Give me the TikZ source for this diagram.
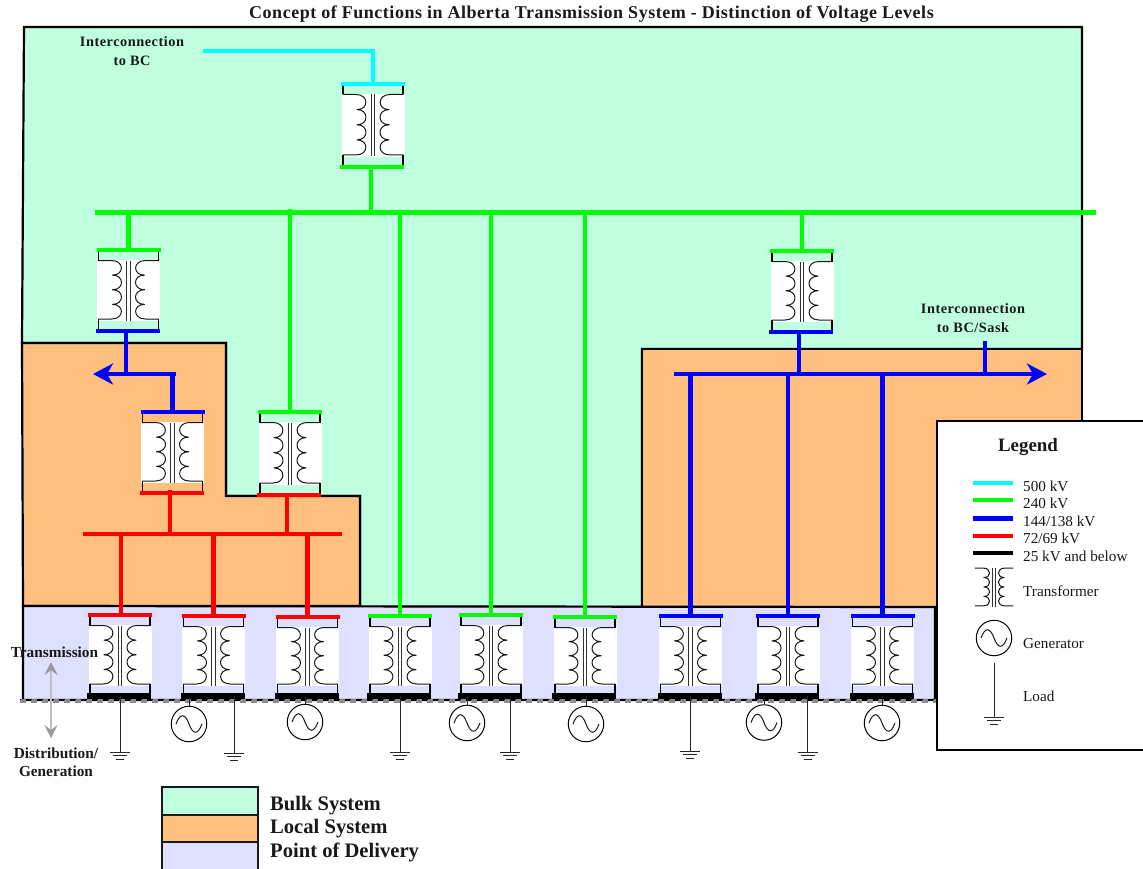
\documentclass[tikz,border=0pt]{standalone}
\usepackage{fontspec}
\setmainfont{Liberation Serif}
\usetikzlibrary{arrows.meta}
\definecolor{bulk}{HTML}{BFFFDF}
\definecolor{local}{HTML}{FFBF7F}
\definecolor{pod}{HTML}{DFDFFF}
\definecolor{kvfive}{HTML}{00FFFF}
\definecolor{kvtwo}{HTML}{00FF00}
\definecolor{kvone}{HTML}{0000FF}
\definecolor{kvsev}{HTML}{FF0000}
\tikzset{
  region/.style={draw=black,line width=2.2pt,line join=miter},
  bus/.style={line width=4.6pt},
  blackbar/.style={black,line width=5.4pt},
  busarrow/.style={line width=4.6pt,-{Stealth[length=20pt,width=21pt,inset=6pt]}},
  tick/.style={draw=black,line width=1.4pt},
  winding/.style={draw=black!90,line width=1pt},
  core/.style={draw=black!80,line width=1pt},
  thinline/.style={draw=black!85,line width=1pt},
  gencircle/.style={circle,draw=black,line width=1pt,minimum size=35.5pt,inner sep=0pt},
  lab/.style={inner sep=0pt,font=\fontsize{14.3}{19}\selectfont\bfseries\addfontfeature{LetterSpace=3.7},align=center,text=black!90},
  sidelab/.style={inner sep=0pt,font=\fontsize{15.3}{18}\selectfont\bfseries,align=center,text=black!90},
  leglab/.style={inner sep=0pt,anchor=base west,font=\fontsize{15.2}{17}\selectfont,text=black!90},
  keylab/.style={inner sep=0pt,anchor=base west,font=\fontsize{20.6}{22}\selectfont\bfseries,text=black!90},
  keybox/.style={draw=black!90,line width=1.8pt},
}
% coil pair in local coordinates: top y = #1, bumps of height #2
\newcommand{\coilpair}[2]{%
  \foreach \sgn in {-1,1}{%
    \draw[winding,line join=round,line cap=round] (\sgn*30,#1) -- (\sgn*17,#1)
      .. controls (\sgn*4,#1) and (\sgn*4,#1+#2) .. (\sgn*16,#1+#2)
      .. controls (\sgn*4,#1+#2) and (\sgn*4,#1+2*#2) .. (\sgn*16,#1+2*#2)
      .. controls (\sgn*4,#1+2*#2) and (\sgn*4,#1+3*#2) .. (\sgn*16,#1+3*#2)
      .. controls (\sgn*4,#1+3*#2) and (\sgn*4,#1+4*#2) .. (\sgn*17,#1+4*#2)
      -- (\sgn*30,#1+4*#2);
    \draw[core] (\sgn*1.7,#1) -- (\sgn*1.7,#1+4*#2+1.5);
  }}
% \xfmr{name}{cx}{top}{bottom}{top colour}{bottom colour}
\newcommand{\xfmr}[6]{%
  \pgfmathsetmacro\hh{#4-#3}%
  \pgfmathsetmacro\stp{(\hh-22.5)/4}%
  \coordinate (#1-t) at (#2,#3);
  \coordinate (#1-b) at (#2-1,#4);
  \begin{scope}[shift={(#2,#3)}]
    \fill[white] (-31.5,10) rectangle (31.5,\hh-10);
    \coilpair{10.5}{\stp}
    \draw[tick] (-30,0) -- (-30,10.5);
    \draw[tick] (30,0) -- (30,10.5);
    \draw[tick] (-30,\hh-12) -- (-30,\hh);
    \draw[tick] (30,\hh-12) -- (30,\hh);
    \draw[bus,#5] (-32,0) -- (32,0);
    \draw[bus,#6] (-33,\hh) -- (31,\hh);
  \end{scope}}
% \genr{name}{x}{y}
\newcommand{\genr}[3]{%
  \node[gencircle] (#1) at (#2,#3) {};
  \draw[winding] (#2-13,#3) .. controls (#2-9,#3-11) and (#2-4,#3-11) .. (#2,#3)
    .. controls (#2+4,#3+11) and (#2+9,#3+11) .. (#2+13,#3);}
% \gnd{name}{x}{y}
\newcommand{\gnd}[3]{%
  \coordinate (#1) at (#2,#3);
  \draw[thinline] (#2-10,#3) -- (#2+10,#3);
  \draw[thinline] (#2-7,#3+3.5) -- (#2+7,#3+3.5);
  \draw[thinline] (#2-4,#3+7) -- (#2+4,#3+7);}
\begin{document}
\begin{tikzpicture}[x=1pt,y=-1pt]
\useasboundingbox (0,0) rectangle (1143,869);
% regions
\draw[region,fill=bulk] (24,27) -- (1082,27) -- (1082,349) -- (642,349) -- (642,607) -- (360,607) -- (360,496) -- (226,496) -- (226,343) -- (22,343) -- cycle;
\draw[region,fill=local] (22,343) -- (226,343) -- (226,496) -- (360,496) -- (360,606) -- (23,606) -- cycle;
\draw[region,fill=local] (642,349) -- (1082,349) -- (1082,607) -- (642,607) -- cycle;
\draw[region,fill=pod] (23,606) -- (935,607) -- (935,700) -- (23,700) -- cycle;
\draw[black!45,line width=3.4pt,dash pattern=on 6pt off 5pt] (20,701) -- (937,701);
\draw[black,line width=1.8pt,dash pattern=on 6pt off 5pt,dash phase=5.5pt] (20,699.5) -- (937,699.5);
% legend box
\draw[draw=black,line width=2.2pt,fill=white] (1146,421) -- (937,421) -- (937,750) -- (1146,750);
% title
\node[inner sep=0pt,font=\fontsize{18}{20}\selectfont\bfseries\addfontfeature{LetterSpace=2.9},text=black!90] (title) at (591.5,14) {Concept of Functions in Alberta Transmission System - Distinction of Voltage Levels};
% transformers
\xfmr{ta}{373}{84}{167}{kvfive}{kvtwo}
\xfmr{tb}{128.5}{250}{331}{kvtwo}{kvone}
\xfmr{tc}{802}{251}{332}{kvtwo}{kvone}
\xfmr{td}{172.5}{412}{493}{kvone}{kvsev}
\xfmr{te}{290}{412}{495}{kvtwo}{kvsev}
\xfmr{p1}{120}{615}{696}{kvsev}{blackbar}
\xfmr{p2}{213.5}{616}{696}{kvsev}{blackbar}
\xfmr{p3}{307.5}{617}{696}{kvsev}{blackbar}
\xfmr{p4}{400}{616}{696}{kvtwo}{blackbar}
\xfmr{p5}{491}{615}{696}{kvtwo}{blackbar}
\xfmr{p6}{585}{617}{696}{kvtwo}{blackbar}
\xfmr{p7}{690.5}{616}{696}{kvone}{blackbar}
\xfmr{p8}{788}{616}{696}{kvone}{blackbar}
\xfmr{p9}{882.5}{616}{696}{kvone}{blackbar}
% bus coordinates
\coordinate (cyanend) at (203,51);
\coordinate (cyancorner) at (373,51);
\coordinate (gw) at (95,212.5);
\coordinate (ge) at (1096,212.5);
\coordinate (gdrop) at (371,167);
\coordinate (gtee) at (290,209);
\coordinate (lbw) at (93,374);
\coordinate (lbe) at (176,374);
\coordinate (lbdrop) at (126,331);
\coordinate (rbw) at (674,374);
\coordinate (rbe) at (1047,374);
\coordinate (rbdrop) at (799,332);
\coordinate (rup) at (985,341);
\coordinate (rw) at (83,534);
\coordinate (re) at (342,534);
\coordinate (rd) at (170,490);
\coordinate (rdb) at (287,495);
\coordinate (rp1) at (121,615);
% 500 kV
\draw[bus,kvfive] (cyanend) -- (cyancorner) -- (ta-t);
% 240 kV
\draw[bus,kvtwo] (gw) -- (ge);
\draw[bus,kvtwo] (gdrop) -- (gdrop |- gw);
\draw[bus,kvtwo] (tb-t) -- (tb-t |- gw);
\draw[bus,kvtwo] (te-t) -- (gtee);
\draw[bus,kvtwo] (tc-t) -- (tc-t |- gw);
\draw[bus,kvtwo] (p4-t) -- (p4-t |- gw);
\draw[bus,kvtwo] (p5-t) -- (p5-t |- gw);
\draw[bus,kvtwo] (p6-t) -- (p6-t |- gw);
% 144/138 kV
\draw[bus,kvone] (lbdrop) -- (lbdrop |- lbw);
\draw[busarrow,kvone] (lbe) -- (lbw);
\draw[bus,kvone] (td-t) -- (td-t |- lbe);
\draw[bus,kvone] (rbdrop) -- (rbdrop |- rbw);
\draw[busarrow,kvone] (rbw) -- (rbe);
\draw[bus,kvone] (rup) -- (rup |- rbw);
\draw[bus,kvone] (p7-t) -- (p7-t |- rbw);
\draw[bus,kvone] (p8-t) -- (p8-t |- rbw);
\draw[bus,kvone] (p9-t) -- (p9-t |- rbw);
% 72/69 kV
\draw[bus,kvsev] (rw) -- (re);
\draw[bus,kvsev] (rd) -- (rd |- rw);
\draw[bus,kvsev] (rdb) -- (rdb |- rw);
\draw[bus,kvsev] (rp1) -- (rp1 |- rw);
\draw[bus,kvsev] (p2-t) -- (p2-t |- rw);
\draw[bus,kvsev] (p3-t) -- (p3-t |- rw);
% generators and loads
\genr{g1}{189}{724}
\genr{g2}{305}{722}
\genr{g3}{467}{723}
\genr{g4}{586}{724}
\genr{g5}{764}{722.5}
\genr{g6}{882}{723}
\gnd{l1}{120}{752}
\gnd{l2}{234}{753}
\gnd{l3}{400}{752}
\gnd{l4}{510}{752}
\gnd{l5}{690}{751}
\gnd{l6}{807.5}{752}
\draw[thinline] (g1.north) -- (g1.north |- p2-b);
\draw[thinline] (g2.north) -- (g2.north |- p3-b);
\draw[thinline] (g3.north) -- (g3.north |- p5-b);
\draw[thinline] (g4.north) -- (g4.north |- p6-b);
\draw[thinline] (g5.north) -- (g5.north |- p8-b);
\draw[thinline] (g6.north) -- (g6.north |- p9-b);
\draw[thinline] (l1) -- (l1 |- p1-b);
\draw[thinline] (l2) -- (l2 |- p2-b);
\draw[thinline] (l3) -- (l3 |- p4-b);
\draw[thinline] (l4) -- (l4 |- p5-b);
\draw[thinline] (l5) -- (l5 |- p7-b);
\draw[thinline] (l6) -- (l6 |- p8-b);
% labels on the diagram
\node[lab] (ibc) at (132,51) {Interconnection\\to BC};
\node[lab] (isask) at (973,318) {Interconnection\\to BC/Sask};
\coordinate (au) at (51,662);
\coordinate (ad) at (51,738);
\draw[black!25,line width=1.6pt,{Stealth[length=13pt,width=13pt,inset=5pt,black!40]}-{Stealth[length=13pt,width=13pt,inset=5pt,black!40]}] (au) -- (ad);
\node[sidelab] (trans) at (54.5,652) {Transmission};
\node[sidelab] (dist) at (56,762) {Distribution/\\Generation};
% voltage legend
\node[inner sep=0pt,font=\fontsize{18.9}{21}\selectfont\bfseries,text=black!90] (legtitle) at (1028,447.5) {Legend};
\coordinate (k1a) at (973,483); \coordinate (k1b) at (1013,483);
\coordinate (k2a) at (973,500); \coordinate (k2b) at (1013,500);
\coordinate (k3a) at (973,518.5); \coordinate (k3b) at (1013,518.5);
\coordinate (k4a) at (973,536); \coordinate (k4b) at (1013,536);
\coordinate (k5a) at (973,553); \coordinate (k5b) at (1013,553);
\draw[bus,kvfive] (k1a) -- (k1b);
\draw[bus,kvtwo] (k2a) -- (k2b);
\draw[bus,kvone] (k3a) -- (k3b);
\draw[bus,kvsev] (k4a) -- (k4b);
\draw[bus,black] (k5a) -- (k5b);
\node[leglab] (t1) at (1023,491) {500 kV};
\node[leglab] (t2) at (1023,508) {240 kV};
\node[leglab] (t3) at (1023,526) {144/138 kV};
\node[leglab] (t4) at (1023,543) {72/69 kV};
\node[leglab] (t5) at (1023,561) {25 kV and below};
\node[leglab] (t6) at (1023,596.5) {Transformer};
\node[leglab] (t7) at (1023,648) {Generator};
\node[leglab] (t8) at (1023,701) {Load};
\begin{scope}[shift={(994,587)},scale=.63]
  \coilpair{-30}{15}
\end{scope}
\genr{gk}{994}{638}
\gnd{lk}{994}{717}
\coordinate (lktop) at (994,663);
\draw[thinline] (lktop) -- (lk);
% region key
\draw[keybox,fill=bulk] (162,787) rectangle (258,815);
\draw[keybox,fill=local] (162,815) rectangle (258,842);
\draw[keybox,fill=pod] (162,842) rectangle (258,870);
\node[keylab] (k1) at (270,810) {Bulk System};
\node[keylab] (k2) at (270,833.5) {Local System};
\node[keylab] (k3) at (270,857) {Point of Delivery};
\end{tikzpicture}
\end{document}
